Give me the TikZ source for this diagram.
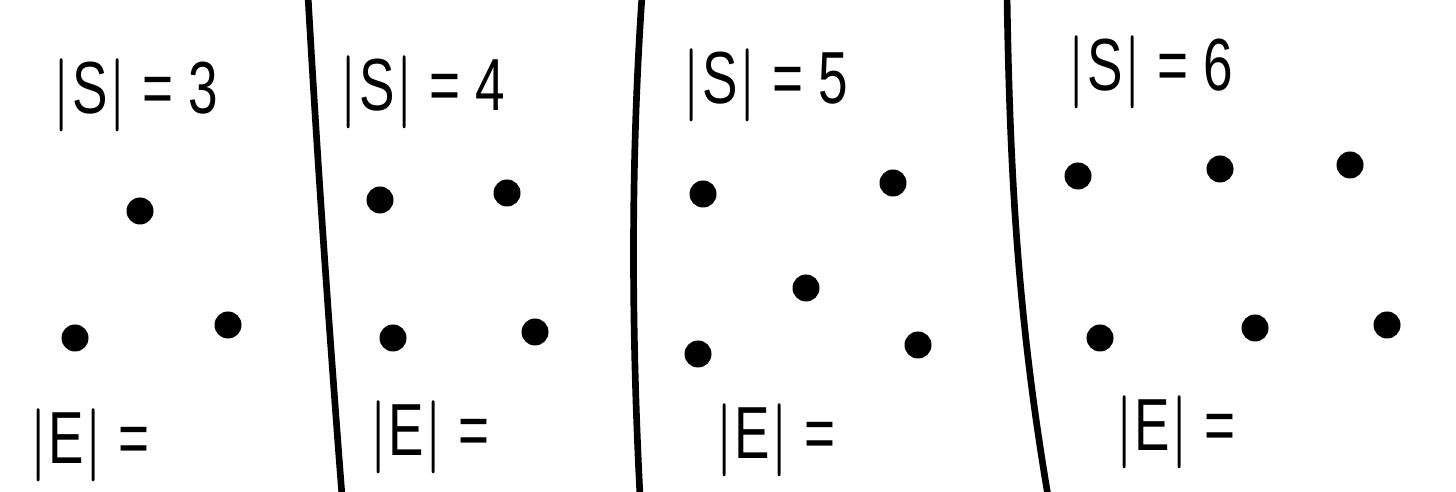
\documentclass[tikz,border=0pt]{standalone}
\usepackage{fontspec}
\newfontfamily\handfont[FakeStretch=0.72]{Liberation Sans}
\usetikzlibrary{positioning}
\tikzset{
  pt/.style={circle, fill=black, inner sep=0pt, minimum size=0.27cm},
  lbl/.style={font=\handfont\fontsize{21}{23}\selectfont, inner sep=0pt},
  divider/.style={line width=1.9pt, line cap=round}
}

\begin{document}
\begin{tikzpicture}
            \useasboundingbox (0,0) rectangle (14.56,4.91);

            % --- Panel 1: |S| = 3 ---
            \node[lbl] (s3) at (1.35,3.96) {$|$S$|$ = 3};
            \node[pt] (a1) at (1.40,2.80) {};
            \node[pt] (a2) at (0.75,1.53) {};
            \node[pt] (a3) at (2.28,1.66) {};
            \node[lbl] (e3) at (0.89,0.46) {$|$E$|$ =};

            \draw[divider] (3.08,4.95) .. controls (3.18,3.2) and (3.30,1.5) .. (3.42,-0.05);

            % --- Panel 2: |S| = 4 ---
            \node[lbl] (s4) at (4.22,3.99) {$|$S$|$ = 4};
            \node[pt] (b1) at (3.80,2.91) {};
            \node[pt] (b2) at (5.07,2.98) {};
            \node[pt] (b3) at (3.93,1.53) {};
            \node[pt] (b4) at (5.35,1.59) {};
            \node[lbl] (e4) at (4.29,0.54) {$|$E$|$ =};

            \draw[divider] (6.42,4.95) .. controls (6.30,3.2) and (6.32,1.5) .. (6.40,-0.05);

            % --- Panel 3: |S| = 5 ---
            \node[lbl] (s5) at (7.65,4.06) {$|$S$|$ = 5};
            \node[pt] (c1) at (7.03,2.97) {};
            \node[pt] (c2) at (8.93,3.08) {};
            \node[pt] (c3) at (8.06,2.03) {};
            \node[pt] (c4) at (6.98,1.37) {};
            \node[pt] (c5) at (9.18,1.46) {};
            \node[lbl] (e5) at (7.75,0.51) {$|$E$|$ =};

            \draw[divider] (10.07,4.95) .. controls (10.10,3.0) and (10.20,1.6) .. (10.48,-0.05);

            % --- Panel 4: |S| = 6 ---
            \node[lbl] (s6) at (11.50,4.19) {$|$S$|$ = 6};
            \node[pt] (d1) at (10.78,3.15) {};
            \node[pt] (d2) at (12.20,3.22) {};
            \node[pt] (d3) at (13.50,3.26) {};
            \node[pt] (d4) at (11.00,1.53) {};
            \node[pt] (d5) at (12.55,1.63) {};
            \node[pt] (d6) at (13.87,1.66) {};
            \node[lbl] (e6) at (11.75,0.59) {$|$E$|$ =};
\end{tikzpicture}
\end{document}
